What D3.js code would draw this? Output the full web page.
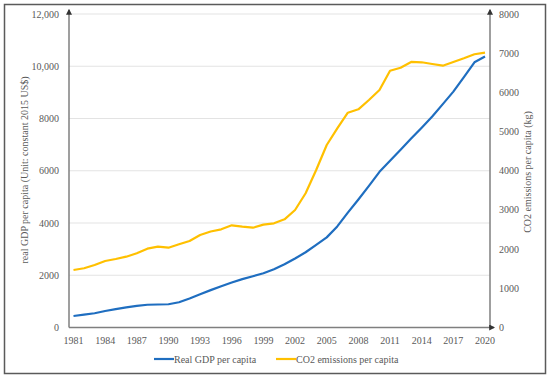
<!DOCTYPE html>
<html>
<head>
<meta charset="utf-8">
<script src="https://d3js.org/d3.v7.min.js"></script>
<style>
  body { margin: 0; background: #fff; }
</style>
</head>
<body>
<div id="chart"></div>
<script>
var years = d3.range(1981, 2021);
var gdp = [440, 490, 545, 630, 705, 770, 830, 870, 880, 890,
           965, 1110, 1270, 1430, 1580, 1720, 1850, 1960, 2075, 2230,
           2420, 2640, 2880, 3160, 3450, 3870, 4395, 4900, 5420, 5960,
           6380, 6800, 7230, 7650, 8080, 8550, 9030, 9580, 10150, 10370];
var co2 = [1467, 1511, 1595, 1697, 1748, 1807, 1893, 2011, 2062, 2037,
           2123, 2207, 2360, 2450, 2505, 2608, 2573, 2547, 2624, 2659,
           2761, 2999, 3425, 4020, 4658, 5083, 5482, 5568, 5806, 6061,
           6553, 6630, 6776, 6768, 6725, 6681, 6776, 6870, 6972, 7013];
var xTicks = d3.range(1981, 2021, 3);
var leftTicks = [0, 2000, 4000, 6000, 8000, 10000, 12000];
var rightTicks = [0, 1000, 2000, 3000, 4000, 5000, 6000, 7000, 8000];

var width = 550, height = 378;
var plotLeft = 69, plotRight = 490, plotTop = 14, plotBottom = 327.5;
var font = "'Liberation Serif', 'DejaVu Serif', serif";
var textColor = '#595959';

var svg = d3.select('#chart').append('svg')
    .attr('width', width)
    .attr('height', height)
    .attr('font-family', font)
    .attr('font-size', '10px');

svg.append('rect')
    .attr('x', 4.5).attr('y', 4.5)
    .attr('width', 541).attr('height', 369)
    .attr('fill', 'none')
    .attr('stroke', '#5a5a5a')
    .attr('stroke-width', 1.5);

var x = d3.scaleLinear().domain([1981, 2020]).range([73.5, 485]);
var yL = d3.scaleLinear().domain([0, 12000]).range([plotBottom, plotTop]);
var yR = d3.scaleLinear().domain([0, 8000]).range([plotBottom, plotTop]);

// arrow marker
svg.append('defs').append('marker')
    .attr('id', 'arrow')
    .attr('viewBox', '0 0 10 10')
    .attr('refX', 8).attr('refY', 5)
    .attr('markerWidth', 4).attr('markerHeight', 4)
    .attr('orient', 'auto')
  .append('path')
    .attr('d', 'M0,0 L10,5 L0,10 z')
    .attr('fill', '#333');

// gridlines
svg.append('g').selectAll('line')
    .data(leftTicks.filter(d => d > 0))
    .enter().append('line')
        .attr('x1', plotLeft).attr('x2', plotRight)
        .attr('y1', d => yL(d)).attr('y2', d => yL(d))
        .attr('stroke', '#e3e3e3')
        .attr('stroke-width', 1);

// axes lines
var axisColor = '#7f7f7f';
svg.append('line')
    .attr('x1', plotLeft).attr('x2', plotLeft)
    .attr('y1', plotBottom).attr('y2', plotTop - 4)
    .attr('stroke', axisColor).attr('stroke-width', 1.5)
    .attr('marker-end', 'url(#arrow)');
svg.append('line')
    .attr('x1', plotRight).attr('x2', plotRight)
    .attr('y1', plotBottom).attr('y2', plotTop - 4)
    .attr('stroke', axisColor).attr('stroke-width', 1.5)
    .attr('marker-end', 'url(#arrow)');
svg.append('line')
    .attr('x1', plotLeft).attr('x2', plotRight + 4)
    .attr('y1', plotBottom).attr('y2', plotBottom)
    .attr('stroke', axisColor).attr('stroke-width', 1.5)
    .attr('marker-end', 'url(#arrow)');

// tick labels
svg.append('g').selectAll('text')
    .data(leftTicks)
    .enter().append('text')
        .attr('x', 59)
        .attr('y', d => yL(d))
        .attr('dy', '0.35em')
        .attr('text-anchor', 'end')
        .attr('fill', textColor)
        .text(d => d >= 10000 ? d3.format(',')(d) : d);

svg.append('g').selectAll('text')
    .data(rightTicks)
    .enter().append('text')
        .attr('x', 499)
        .attr('y', d => yR(d))
        .attr('dy', '0.35em')
        .attr('text-anchor', 'start')
        .attr('fill', textColor)
        .text(d => d);

svg.append('g').selectAll('text')
    .data(xTicks)
    .enter().append('text')
        .attr('x', d => x(d))
        .attr('y', 340)
        .attr('dy', '0.35em')
        .attr('text-anchor', 'middle')
        .attr('fill', textColor)
        .text(d => d);

// axis titles
svg.append('text')
    .attr('transform', 'translate(24,170) rotate(-90)')
    .attr('text-anchor', 'middle')
    .attr('dy', '0.35em')
    .attr('fill', textColor)
    .text('real GDP per capita (Unit: constant 2015 US$)');

svg.append('text')
    .attr('transform', 'translate(527,172) rotate(-90)')
    .attr('text-anchor', 'middle')
    .attr('dy', '0.35em')
    .attr('fill', textColor)
    .text('CO2 emissions per capita (kg)');

// lines
var gdpLine = d3.line().x((d, i) => x(years[i])).y(d => yL(d));
var co2Line = d3.line().x((d, i) => x(years[i])).y(d => yR(d));

svg.append('path')
    .datum(co2)
    .attr('d', co2Line)
    .attr('fill', 'none')
    .attr('stroke', '#FFC000')
    .attr('stroke-width', 2.2)
    .attr('stroke-linejoin', 'round');

svg.append('path')
    .datum(gdp)
    .attr('d', gdpLine)
    .attr('fill', 'none')
    .attr('stroke', '#1F6EC0')
    .attr('stroke-width', 2.2)
    .attr('stroke-linejoin', 'round');

// legend
var legend = [
    { name: 'Real GDP per capita', color: '#1F6EC0', x: 154 },
    { name: 'CO2 emissions per capita', color: '#FFC000', x: 276 }
];
var lg = svg.append('g').selectAll('g')
    .data(legend)
    .enter().append('g')
        .attr('transform', d => 'translate(' + d.x + ',359)');
lg.append('line')
    .attr('x1', 0).attr('x2', 20)
    .attr('stroke', d => d.color)
    .attr('stroke-width', 2.2);
lg.append('text')
    .attr('x', 20)
    .attr('dy', '0.35em')
    .attr('fill', textColor)
    .text(d => d.name);
</script>
</body>
</html>
